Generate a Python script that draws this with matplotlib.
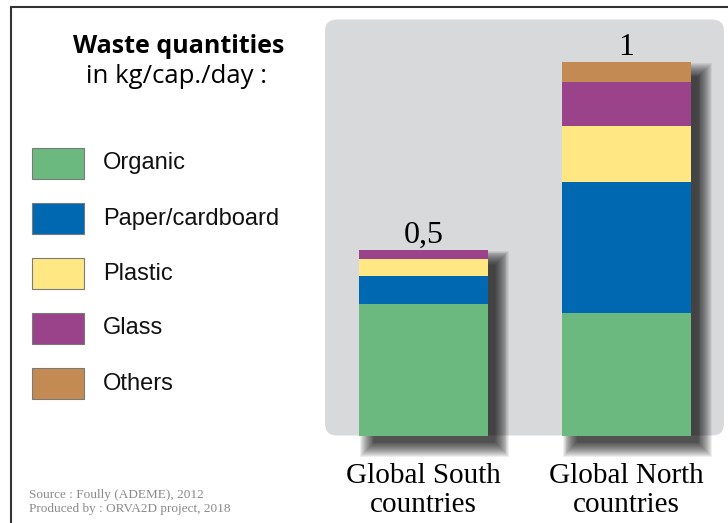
import matplotlib
matplotlib.use('Agg')
import matplotlib.pyplot as plt
from matplotlib.patches import Rectangle, FancyBboxPatch
from matplotlib.transforms import blended_transform_factory
import numpy as np

# kg / capita / day
regions = ['Global South\ncountries', 'Global North\ncountries']
categories = ['Organic', 'Paper/cardboard', 'Plastic', 'Glass', 'Others']
organic = [0.352, 0.327]
paper = [0.076, 0.353]
plastic = [0.046, 0.150]
glass = [0.024, 0.118]
others = [0.0, 0.052]
colors = ['#6cb97f', '#0067b1', '#ffe784', '#9a438b', '#c38b53']

W, H = 728, 523
fig = plt.figure(figsize=(W / 100, H / 100), dpi=100)

# background layer in pixel coordinates
bg = fig.add_axes([0, 0, 1, 1])
bg.set_xlim(0, W)
bg.set_ylim(H, 0)
bg.axis('off')

# frame lines (left + top)
bg.plot([10.5, 10.5, W], [H, 7, 7], color='#333333', lw=1.5, solid_joinstyle='miter')

# grey rounded panel
bg.add_patch(FancyBboxPatch((325, 19.5), 399, 416,
                            boxstyle='round,pad=0,rounding_size=12',
                            fc='#d8d9db', ec='none'))

# title
bg.text(179, 53, 'Waste quantities', ha='center', va='baseline',
        fontsize=18, fontweight='bold', family='Open Sans')
bg.text(177, 83, 'in kg/cap./day :', ha='center', va='baseline',
        fontsize=18.5, family='Open Sans')

# legend
for i, (cat, col) in enumerate(zip(categories, colors)):
    y0 = 148 + i * 55
    bg.add_patch(Rectangle((32, y0), 52, 31, fc=col, ec='#7a7a7a', lw=0.8))
    bg.text(103, y0 + 15.5, cat, ha='left', va='center', fontsize=17,
            family='Liberation Sans', color='#111111')

# source
src_kw = dict(ha='left', va='baseline', fontsize=9.5,
              family='Liberation Serif', color='#8a8a8a')
bg.text(29, 498, 'Source : Foully (ADEME), 2012', **src_kw)
bg.text(29, 512, 'Produced by : ORVA2D project, 2018', **src_kw)

# bars axes: pixel 325..724 in x, 19.5..470 in y
px_x = 1 / 202.4
px_y = 1 / 373.2
ax = fig.add_axes([325 / W, (H - 470) / H, 399 / W, (470 - 19.5) / H])
ax.patch.set_alpha(0)
ax.axis('off')
ax.set_xlim(-(423.8 - 325) * px_x, 1 + (724 - 626.2) * px_x)
ax.set_ylim(-(470 - 435.5) * px_y, (435.5 - 19.5) * px_y)

x = np.arange(len(regions))
width = 0.637
stack = np.array([organic, paper, plastic, glass, others])
totals = stack.sum(axis=0)

# soft drop shadow
dx, dy = 11, 11
for e in np.linspace(10, -4, 16):
    for xi, t in zip(x, totals):
        ax.add_patch(Rectangle((xi - width / 2 + (dx - e) * px_x, -(dy + e) * px_y),
                               width + 2 * e * px_x, t + 2 * e * px_y,
                               fc='black', ec='none', alpha=0.065, zorder=1))

bottom = np.zeros(len(regions))
for vals, col in zip(stack, colors):
    ax.bar(x, vals, width, bottom=bottom, color=col, lw=0, zorder=3)
    bottom += vals

for xi, t in zip(x, totals):
    lab = f'{round(t, 1):g}'.replace('.', ',')
    ax.annotate(lab, (xi, t), xytext=(0, 5), textcoords='offset points',
                ha='center', va='baseline', fontsize=23, family='Liberation Serif')

tr = blended_transform_factory(ax.transData, bg.transData)
for xi, name in zip(x, regions):
    l1, l2 = name.split('\n')
    ax.text(xi, 483, l1, transform=tr, ha='center', va='baseline',
            fontsize=21, family='Liberation Serif')
    ax.text(xi, 512.5, l2, transform=tr, ha='center', va='baseline',
            fontsize=21, family='Liberation Serif')

fig.savefig('out.png', dpi=100)
